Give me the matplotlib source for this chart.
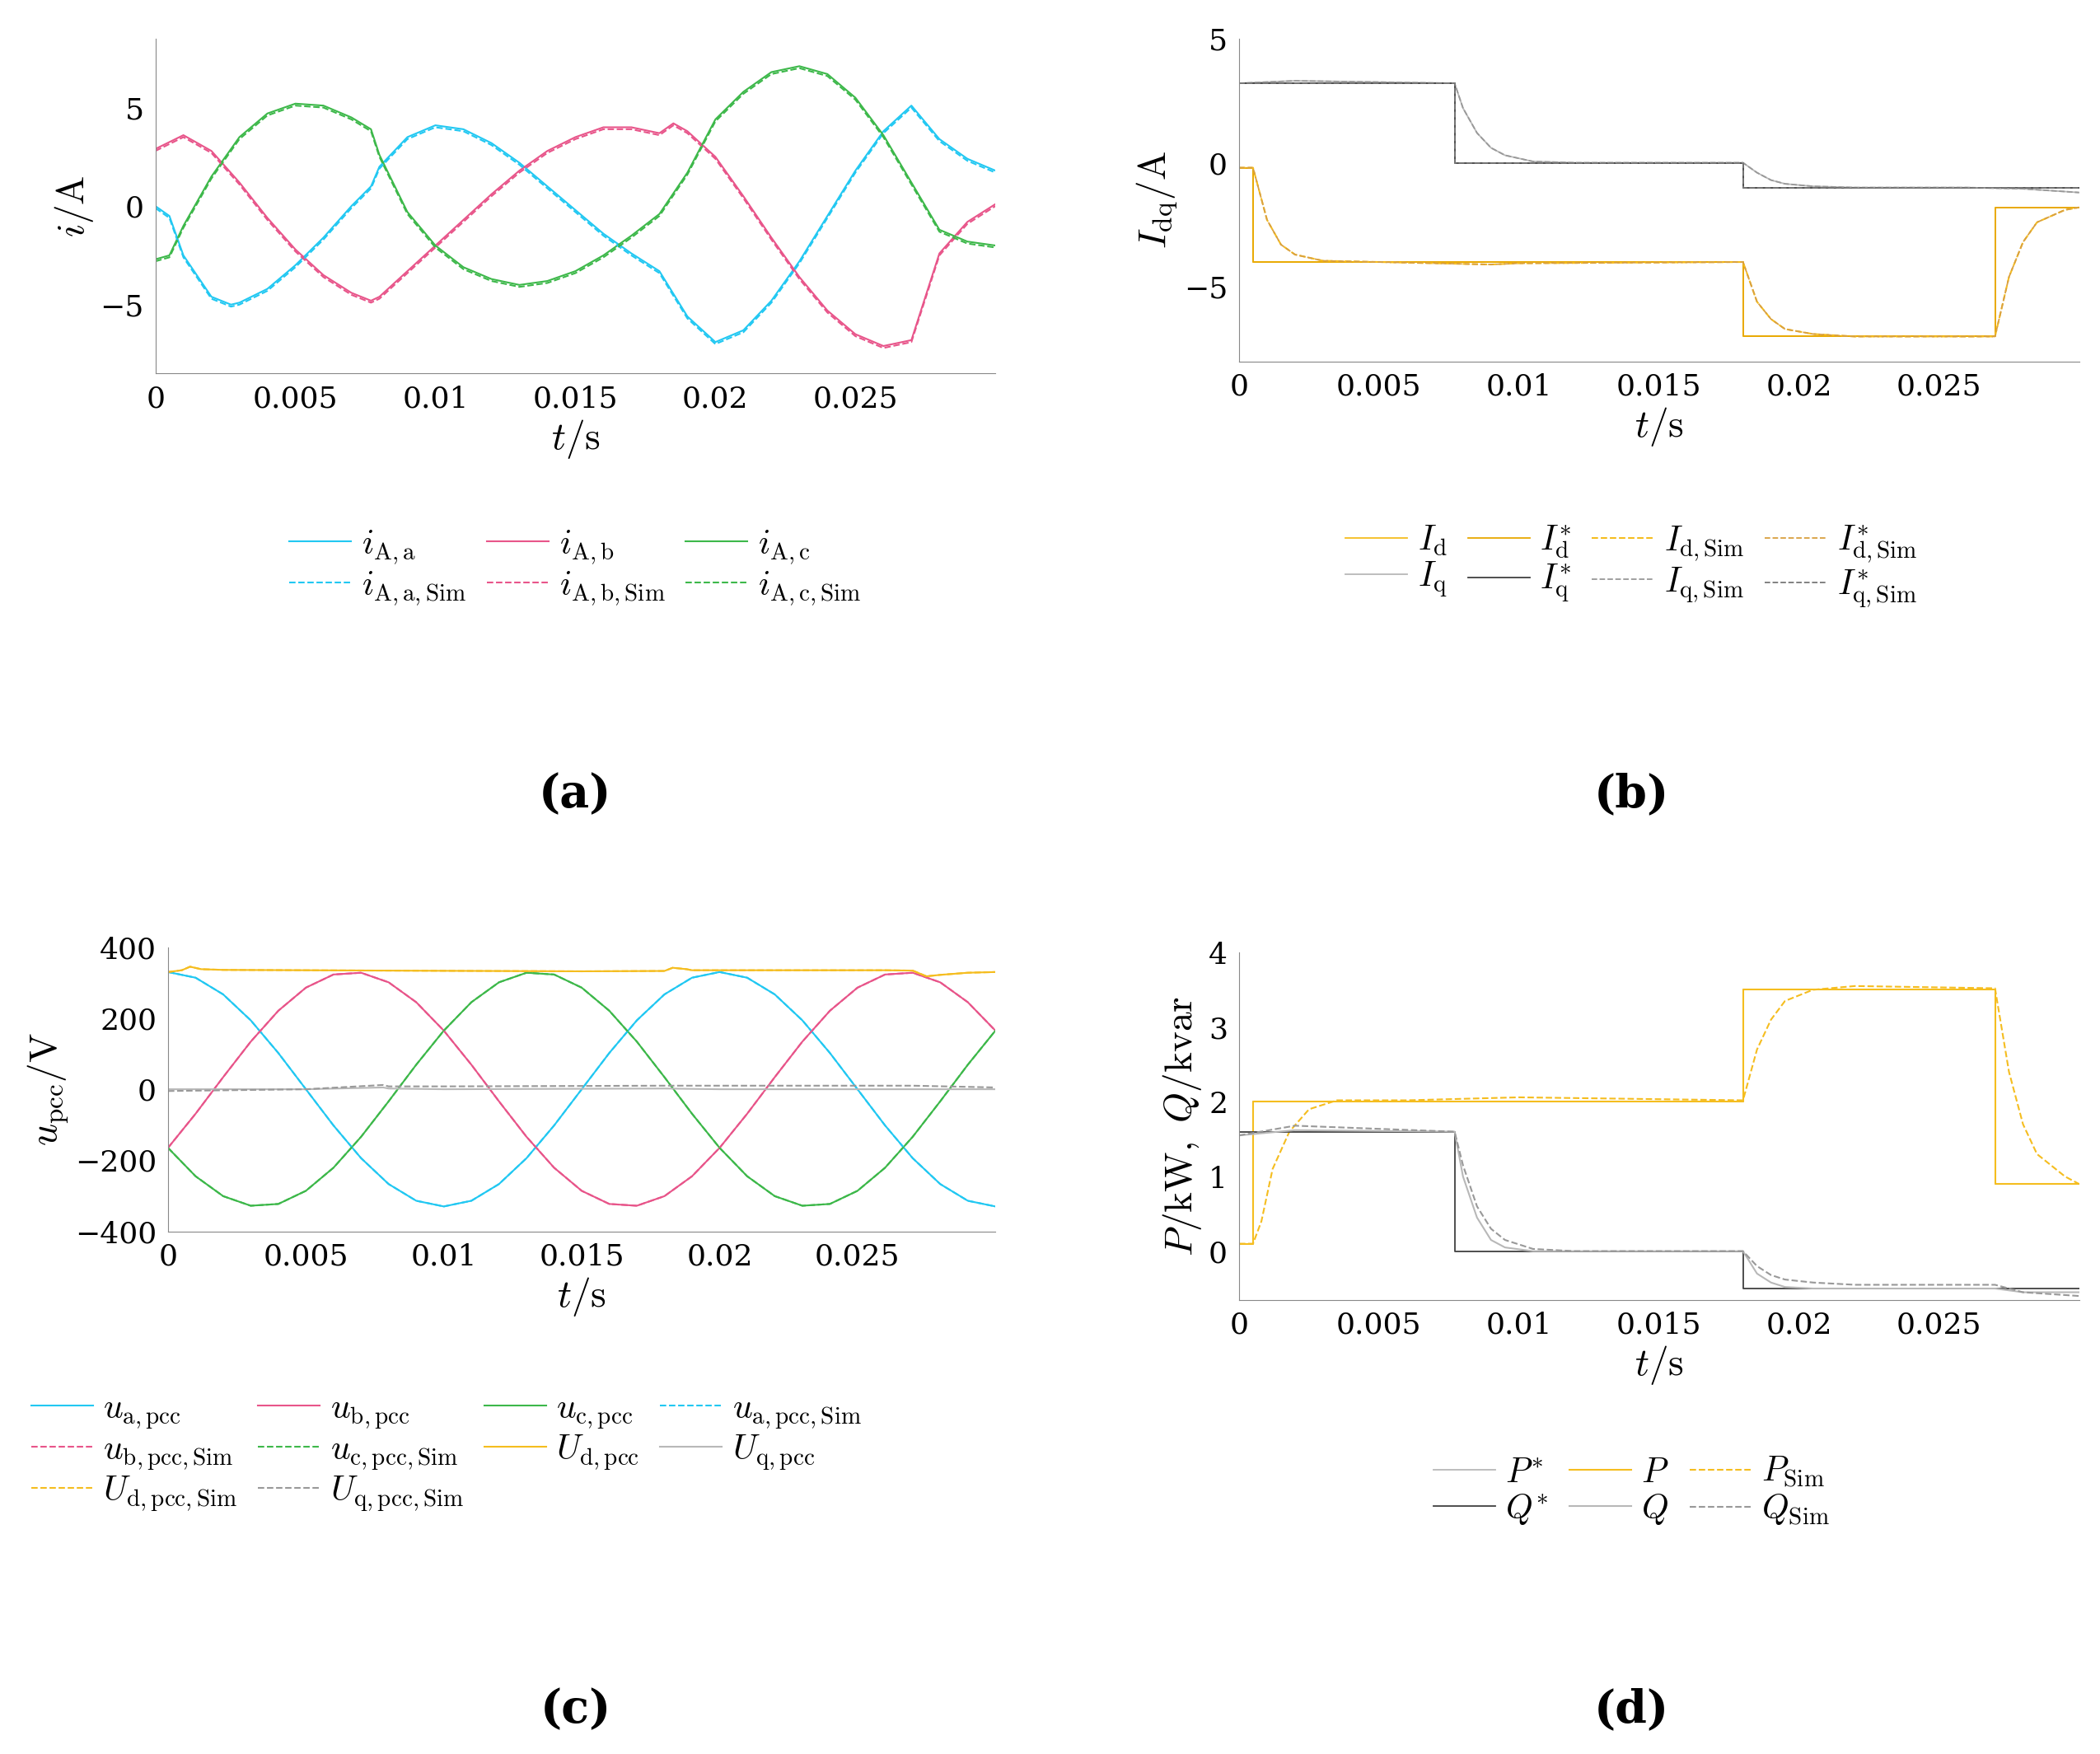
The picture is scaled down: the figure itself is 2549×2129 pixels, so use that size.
import matplotlib
matplotlib.use("Agg")
import matplotlib.pyplot as plt

plt.rcParams['font.family'] = 'DejaVu Serif'
plt.rcParams['mathtext.fontset'] = 'cm'

# ---------- data ----------
# (a) phase currents
ta_a = [0, .0005, .001, .002, .0027, .003, .004, .005, .006, .007, .0077, .008, .009, .01, .011, .012, .013, .014, .015,
        .016, .017, .018, .019, .02, .021, .022, .023, .024, .025, .026, .027, .028, .029, .03]
ia_a = [0, -.5, -2.5, -4.6, -5, -4.9, -4.2, -3, -1.6, 0, 1.0, 2, 3.5, 4.1, 3.9, 3.2, 2.2, 1, -.2,
        -1.4, -2.4, -3.3, -5.6, -6.9, -6.3, -4.8, -2.8, -.5, 1.8, 3.8, 5.1, 3.4, 2.4, 1.8]
ta_b = [0, .001, .002, .003, .004, .005, .006, .007, .0077, .008, .009, .01, .011, .012, .013, .014, .015, .016, .017,
        .018, .0185, .019, .02, .021, .022, .023, .024, .025, .026, .027, .028, .029, .03]
ia_b = [2.9, 3.6, 2.8, 1.2, -.6, -2.2, -3.5, -4.4, -4.8, -4.6, -3.3, -2, -.7, .6, 1.8, 2.8, 3.5, 4, 4,
        3.7, 4.2, 3.8, 2.5, .5, -1.6, -3.6, -5.3, -6.5, -7.1, -6.8, -2.4, -.8, .1]
ta_c = [0, .0005, .001, .002, .003, .004, .005, .006, .007, .0077, .008, .009, .01, .011, .012, .013, .014, .015, .016,
        .017, .018, .019, .02, .021, .022, .023, .024, .025, .026, .027, .028, .029, .03]
ia_c = [-2.7, -2.5, -1, 1.5, 3.5, 4.7, 5.2, 5.1, 4.5, 3.9, 2.6, -.3, -2, -3.1, -3.7, -4, -3.8, -3.3, -2.5,
        -1.5, -.4, 1.7, 4.4, 5.8, 6.8, 7.1, 6.7, 5.5, 3.6, 1.2, -1.2, -1.8, -2]

# (b) dq currents
t_step_d = [0, .0005, .018, .027, .03]
id_ref = [-.2, -4, -7, -1.8, -1.8]
t_id_sim = [0, .0005, .001, .0015, .002, .003, .005, .009, .01, .018, .0185, .019, .0195, .0205, .022, .027,
            .0275, .028, .0285, .0295, .03]
id_sim = [-.2, -.2, -2.3, -3.3, -3.7, -3.95, -4, -4.1, -4.05, -4, -5.6, -6.3, -6.7, -6.9, -7, -7,
          -4.6, -3.2, -2.4, -1.9, -1.8]
t_step_q = [0, .0077, .018, .03]
iq_ref = [3.2, 0, -1, -1]
t_iq_sim = [0, .002, .0077, .008, .0085, .009, .0095, .0105, .012, .018, .0185, .019, .0195, .0205, .022, .026, .028, .03]
iq_sim = [3.2, 3.3, 3.2, 2.2, 1.2, .6, .3, .05, 0, 0, -.4, -.7, -.85, -.95, -1, -1, -1.05, -1.2]

# (c) PCC voltages, sampled every 1 ms
t_u = [k / 1000 for k in range(31)]
ua = [330, 314, 267, 194, 102, 0, -102, -194, -267, -314, -330, -314, -267, -194, -102, 0, 102, 194, 267, 314,
      330, 314, 267, 194, 102, 0, -102, -194, -267, -314, -330]
ub = [-165, -69, 34, 134, 221, 286, 323, 328, 301, 245, 165, 69, -34, -134, -221, -286, -323, -328, -301, -245,
      -165, -69, 34, 134, 221, 286, 323, 328, 301, 245, 165]
uc = [-165, -245, -301, -328, -323, -286, -221, -134, -34, 69, 165, 245, 301, 328, 323, 286, 221, 134, 34, -69,
      -165, -245, -301, -328, -323, -286, -221, -134, -34, 69, 165]
t_ud = [0, .0005, .0008, .0012, .002, .008, .015, .018, .0183, .0188, .019, .026, .027, .0275, .028, .029, .03]
ud = [330, 335, 345, 338, 336, 334, 332, 333, 342, 338, 335, 335, 334, 318, 322, 328, 330]
t_uq = [0, .005, .0078, .008, .01, .018, .02, .027, .03]
uq = [0, 0, 5, 2, 0, 2, 0, 0, 0]
uq_sim = [-5, 0, 12, 8, 8, 10, 10, 10, 5]

# (d) power
t_step_p = [0, .0005, .018, .027, .03]
p_ref = [.1, 2, 3.5, .9, .9]
t_p_sim = [0, .0005, .0008, .0012, .0018, .0025, .0035, .006, .01, .018, .0185, .019, .0195, .0205, .022, .027,
           .0275, .028, .0285, .0295, .03]
p_sim = [.1, .1, .4, 1.1, 1.6, 1.9, 2.02, 2.02, 2.06, 2.02, 2.7, 3.1, 3.35, 3.5, 3.55, 3.52,
         2.4, 1.7, 1.3, 1.0, .9]
t_step_qq = [0, .0077, .018, .03]
q_ref = [1.6, 0, -.5, -.5]
t_q_sim = [0, .002, .0077, .008, .0085, .009, .0095, .0105, .012, .018, .0185, .019, .0195, .0205, .022, .027, .028, .03]
q_sim = [1.55, 1.68, 1.6, 1.15, .6, .3, .15, .03, 0, 0, -.2, -.32, -.38, -.42, -.45, -.45, -.55, -.6]
q_meas = [1.55, 1.62, 1.6, 1.0, .45, .15, .05, 0, 0, 0, -.3, -.42, -.48, -.5, -.5, -.5, -.55, -.55]

C_A, C_B, C_C = '#22c8f2', '#e8558a', '#3db84a'
C_O, C_G, C_K = '#f5bd1f', '#b8b8b8', '#404040'

fig = plt.figure(figsize=(25.49, 21.29), dpi=100)
TS, LS, GS = 26, 34, 30


def style(ax, yl, ylim, yt):
    ax.set_xlim(0, .03)
    ax.set_ylim(*ylim)
    ax.set_xticks([0, .005, .01, .015, .02, .025])
    ax.set_xticklabels(['0', '0.005', '0.01', '0.015', '0.02', '0.025'])
    ax.set_yticks(yt)
    ax.set_yticklabels([str(v).replace('-', '\u2212') for v in yt])
    ax.tick_params(labelsize=TS, length=0, pad=10)
    for s in ['top', 'right']:
        ax.spines[s].set_visible(False)
    for s in ['left', 'bottom']:
        ax.spines[s].set_color('#888888')
    ax.set_xlabel(r'$t/\mathrm{s}$', fontsize=LS)
    ax.set_ylabel(yl, fontsize=LS)


def legend_rows(ax, ncol, **kw):
    # matplotlib fills legends column by column; reorder so it reads row by row
    h, l = ax.get_legend_handles_labels()
    n = len(h)
    nrow = -(-n // ncol)
    order = []
    for c in range(ncol):
        for r in range(nrow):
            i = r * ncol + c
            if i < n:
                order.append(i)
    fig.legend([h[i] for i in order], [l[i] for i in order], ncol=ncol, frameon=False, fontsize=GS,
               handlelength=1.8, handletextpad=.3, columnspacing=.6, labelspacing=.05, **kw)


# (a)
ax = fig.add_axes([.074, .787, .40, .191])
for t, v, c, n in [(ta_a, ia_a, C_A, 'a'), (ta_b, ia_b, C_B, 'b'), (ta_c, ia_c, C_C, 'c')]:
    ax.plot(t, v, color=c, lw=1.5, label=r'$i_{\mathrm{A,%s}}$' % n)
for t, v, c, n in [(ta_a, ia_a, C_A, 'a'), (ta_b, ia_b, C_B, 'b'), (ta_c, ia_c, C_C, 'c')]:
    ax.plot(t, [x - .1 for x in v], color=c, lw=1.5, ls='--', label=r'$i_{\mathrm{A,%s,Sim}}$' % n)
style(ax, r'$i/\mathrm{A}$', (-8.5, 8.5), [-5, 0, 5])
legend_rows(ax, 3, loc='center', bbox_to_anchor=(.274, .677))

# (b)
ax = fig.add_axes([.590, .794, .40, .184])
ax.plot(t_step_d, id_ref, color=C_O, lw=1.3, drawstyle='steps-post', label=r'$I_{\mathrm{d}}$')
ax.plot(t_step_d, id_ref, color='#e8a800', lw=1.3, drawstyle='steps-post', label=r'$I_{\mathrm{d}}^{*}$')
ax.plot(t_id_sim, id_sim, color=C_O, lw=1.5, ls='--', label=r'$I_{\mathrm{d,Sim}}$')
ax.plot(t_id_sim, id_sim, color='#d9a040', lw=1.3, ls='--', label=r'$I_{\mathrm{d,Sim}}^{*}$')
ax.plot(t_iq_sim, iq_sim, color=C_G, lw=1.3, label=r'$I_{\mathrm{q}}$')
ax.plot(t_step_q, iq_ref, color=C_K, lw=1.3, drawstyle='steps-post', label=r'$I_{\mathrm{q}}^{*}$')
ax.plot(t_iq_sim, iq_sim, color='#999999', lw=1.3, ls='--', label=r'$I_{\mathrm{q,Sim}}$')
ax.plot(t_step_q, iq_ref, color='#777777', lw=1.3, ls='--', drawstyle='steps-post', label=r'$I_{\mathrm{q,Sim}}^{*}$')
style(ax, r'$I_{\mathrm{dq}}/\mathrm{A}$', (-8, 5), [-5, 0, 5])
legend_rows(ax, 4, loc='center', bbox_to_anchor=(.777, .677))

# (c)
ax = fig.add_axes([.080, .298, .394, .162])
ax.plot(t_u, ua, color=C_A, lw=1.5, label=r'$u_{\mathrm{a,pcc}}$')
ax.plot(t_u, ub, color=C_B, lw=1.5, label=r'$u_{\mathrm{b,pcc}}$')
ax.plot(t_u, uc, color=C_C, lw=1.5, label=r'$u_{\mathrm{c,pcc}}$')
ax.plot(t_u, ua, color=C_A, lw=1.5, ls='--', label=r'$u_{\mathrm{a,pcc,Sim}}$')
ax.plot(t_u, ub, color=C_B, lw=1.5, ls='--', label=r'$u_{\mathrm{b,pcc,Sim}}$')
ax.plot(t_u, uc, color=C_C, lw=1.5, ls='--', label=r'$u_{\mathrm{c,pcc,Sim}}$')
ax.plot(t_ud, ud, color=C_O, lw=1.5, label=r'$U_{\mathrm{d,pcc}}$')
ax.plot(t_uq, uq, color=C_G, lw=1.5, label=r'$U_{\mathrm{q,pcc}}$')
ax.plot(t_ud, ud, color=C_O, lw=1.5, ls='--', label=r'$U_{\mathrm{d,pcc,Sim}}$')
ax.plot(t_uq, uq_sim, color='#999999', lw=1.5, ls='--', label=r'$U_{\mathrm{q,pcc,Sim}}$')
style(ax, r'$u_{\mathrm{pcc}}/\mathrm{V}$', (-400, 400), [-400, -200, 0, 200, 400])
legend_rows(ax, 4, loc='upper left', bbox_to_anchor=(.0, .225))

# (d)
ax = fig.add_axes([.590, .259, .40, .198])
ax.plot(t_step_p, p_ref, color=C_G, lw=1.3, drawstyle='steps-post', label=r'$P^{*}$')
ax.plot(t_step_p, p_ref, color=C_O, lw=1.5, drawstyle='steps-post', label=r'$P$')
ax.plot(t_p_sim, p_sim, color=C_O, lw=1.5, ls='--', label=r'$P_{\mathrm{Sim}}$')
ax.plot(t_step_qq, q_ref, color=C_K, lw=1.3, drawstyle='steps-post', label=r'$Q^{*}$')
ax.plot(t_q_sim, q_meas, color=C_G, lw=1.5, label=r'$Q$')
ax.plot(t_q_sim, q_sim, color='#999999', lw=1.5, ls='--', label=r'$Q_{\mathrm{Sim}}$')
style(ax, r'$P/\mathrm{kW},\ Q/\mathrm{kvar}$', (-.65, 4), [0, 1, 2, 3, 4])
legend_rows(ax, 3, loc='center', bbox_to_anchor=(.777, .150))

for x, y, s in [(.274, .547, '(a)'), (.777, .547, '(b)'), (.274, .025, '(c)'), (.777, .025, '(d)')]:
    fig.text(x, y, s, fontsize=40, ha='center', va='center', fontweight='bold')

fig.savefig('out.png', dpi=100)
